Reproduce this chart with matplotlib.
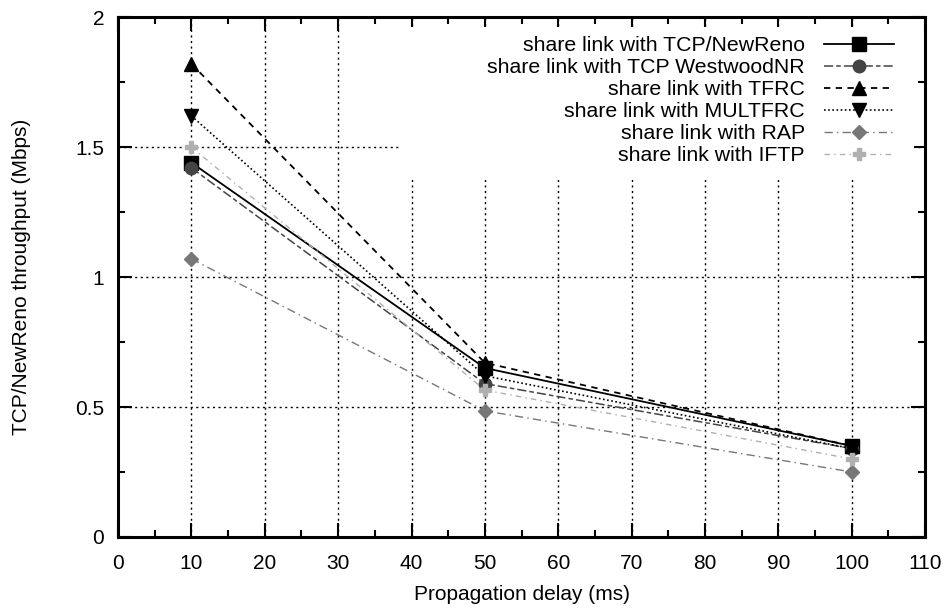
import numpy as np
import matplotlib
matplotlib.use("Agg")
import matplotlib.pyplot as plt
from matplotlib.patches import Rectangle
from matplotlib.ticker import MultipleLocator

plt.rcParams['font.family'] = ['Liberation Sans', 'DejaVu Sans']

# data
delay = [10, 50, 100]
newreno = [1.44, 0.65, 0.35]
westwood = [1.42, 0.59, 0.34]
tfrc = [1.82, 0.67, 0.35]
multfrc = [1.62, 0.62, 0.34]
rap = [1.07, 0.485, 0.25]
iftp = [1.50, 0.565, 0.30]

labels = ["share link with TCP/NewReno", "share link with TCP WestwoodNR",
          "share link with TFRC", "share link with MULTFRC",
          "share link with RAP", "share link with IFTP"]

fig = plt.figure(figsize=(9.46, 6.10), dpi=100)
ax = fig.add_axes([0.1247, 0.1197, 0.8533, 0.8523])

ax.plot(delay, newreno, color='black', lw=1.3, ls='-', marker='s', ms=10.5, label=labels[0])
ax.plot(delay, westwood, color='#444444', lw=1.1, dashes=(6, 2, 3, 2), marker='o', ms=9, label=labels[1])
ax.plot(delay, tfrc, color='black', lw=1.3, dashes=(3.5, 3), marker='^', ms=10, label=labels[2])
ax.plot(delay, multfrc, color='black', lw=1.2, dashes=(1, 1.5), marker='v', ms=10, label=labels[3])
ax.plot(delay, rap, color='#777777', lw=1.0, dashes=(6, 3, 1, 3), marker='D', ms=7, label=labels[4])
ax.plot(delay, iftp, color='#b0b0b0', lw=1.0, dashes=(4, 3, 1, 3), marker='P', ms=9, label=labels[5])

ax.set_xlim(0, 110)
ax.set_ylim(0, 2)
ax.xaxis.set_major_locator(MultipleLocator(10))
ax.xaxis.set_minor_locator(MultipleLocator(5))
ax.yaxis.set_major_locator(MultipleLocator(0.5))
ax.yaxis.set_minor_locator(MultipleLocator(0.25))
ax.yaxis.set_major_formatter(matplotlib.ticker.FuncFormatter(lambda v, p: ('%g' % v)))

ax.tick_params(which='both', direction='in', top=True, right=True, labelsize=15, width=1.5)
ax.tick_params(which='major', length=10)
ax.tick_params(axis='x', which='major', pad=12)
ax.tick_params(axis='y', which='major', pad=10)
ax.tick_params(which='minor', length=5)
for s in ax.spines.values():
    s.set_linewidth(2.2)

ax.set_axisbelow(True)
ax.grid(True, which='major', color='black', ls=(0, (1.5, 2.5)), lw=1.0)

# white key area hides the grid like gnuplot does
ax.add_patch(Rectangle((38.4, 1.375), 70.1, 0.585, facecolor='white', edgecolor='none', zorder=1))

ax.set_xlabel("Propagation delay (ms)", fontsize=15, labelpad=9)
ax.set_ylabel("TCP/NewReno throughput (Mbps)", fontsize=15, labelpad=32)

leg = ax.legend(loc='upper right', markerfirst=False, frameon=False, fontsize=15.3,
                handlelength=3.3, handletextpad=0.9, labelspacing=0.14,
                borderaxespad=0.5, bbox_to_anchor=(0.985, 1.0))

fig.savefig("out.png", dpi=100)
